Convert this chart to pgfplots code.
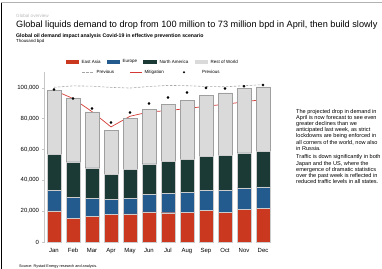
\documentclass[border=0pt]{standalone}
\usepackage{fontspec}
\setmainfont{Liberation Sans}
\usepackage{pgfplots}
\pgfplotsset{compat=1.18}
\usepackage{pgfplotstable}

\definecolor{ea}{HTML}{C9381F}
\definecolor{eu}{HTML}{245B8E}
\definecolor{na}{HTML}{1C3A35}
\definecolor{rw}{HTML}{DADADA}
\definecolor{mit}{HTML}{D43A35}

\pgfplotstableread{
x EA EU NA RW
0 20100 13600 23300 41400
1 15300 13800 22900 41400
2 16800 11700 19600 36200
3 18100 9700 16000 28700
4 18300 10200 18500 33000
5 19600 11300 19800 35200
6 19000 12500 20900 36700
7 19200 13200 21300 38100
8 20700 13000 22000 39400
9 19200 14500 22600 40300
10 21200 13900 22700 41700
11 21800 14000 23100 41600
}\bars

\pgfplotstableread{
x mit prevdot prevline
0 98400 98800 100300
1 93000 93000 101200
2 84500 86500 101000
3 74600 77500 100200
4 81500 84000 99800
5 84300 89800 100800
6 85200 93700 101500
7 86500 96900 101300
8 88000 99900 100800
9 89300 99500 100600
10 90800 101000 101300
11 92400 101800 102000
}\lines

\begin{document}
\begin{tikzpicture}[x=1bp,y=1bp]
\path[use as bounding box] (0,0) rectangle (382,269);
\draw[black, line width=1.2bp] (1.5,0) -- (1.5,267);
\draw[gray!60, line width=0.8bp] (1.5,267) -- (382,267);

\node[anchor=base west, inner sep=0, font=\fontsize{4.6}{5.5}\selectfont, text=gray!55] at (16,252) {Global overview};
\node[anchor=base west, inner sep=0, font=\fontsize{9.2}{10}\selectfont] at (16,242) {Global liquids demand to drop from 100 million to 73 million bpd in April, then build slowly};
\node[anchor=base west, inner sep=0, font=\fontsize{5.2}{6}\selectfont\bfseries] at (16,232) {Global oil demand impact analysis Covid-19 in effective prevention scenario};
\node[anchor=base west, inner sep=0, font=\fontsize{4.4}{5.5}\selectfont] at (16,226.8) {Thousand bpd};

% legend
\begin{scope}[font=\fontsize{4.5}{5.5}\selectfont]
\fill[ea] (66,205.3) rectangle (79,209.3);
\node[anchor=west, inner sep=0] at (81.5,207.3) {East Asia};
\fill[eu] (107,205.3) rectangle (120,209.3);
\node[anchor=west, inner sep=0] at (122.5,207.3) {Europe};
\fill[na] (143,205.3) rectangle (157,209.3);
\node[anchor=west, inner sep=0] at (159.5,207.3) {North America};
\fill[rw] (195,205.3) rectangle (208,209.3);
\node[anchor=west, inner sep=0] at (210.5,207.3) {Rest of World};
\draw[gray!70, dashed, dash pattern=on 2.5bp off 1.5bp, line width=0.6bp] (82,196.7) -- (94,196.7);
\node[anchor=west, inner sep=0] at (96.5,196.7) {Previous};
\draw[mit, line width=0.7bp] (130,196.7) -- (142,196.7);
\node[anchor=west, inner sep=0] at (144.5,196.7) {Mitigation};
\fill[black] (184,196.7) circle (1.1bp);
\node[anchor=west, inner sep=0] at (202,196.7) {Previous};
\end{scope}

\begin{axis}[
  at={(54bp,27bp)}, anchor=origin, scale only axis,
  width=228bp, height=169.7bp,
  xmin=-0.5, xmax=11.5, ymin=0, ymax=110000,
  ybar stacked, bar width=14bp,
  axis lines=left, axis line style={-},
  x axis line style={draw=none},
  y axis line style={gray!45, line width=0.4bp},
  xtick={0,...,11},
  xticklabels={Jan,Feb,Mar,Apr,May,Jun,Jul,Aug,Sep,Oct,Nov,Dec},
  xtick style={draw=none},
  ytick={0,20000,40000,60000,80000,100000},
  ytick style={gray!45, line width=0.4bp},
  tick align=outside, major tick length=2bp,
  scaled y ticks=false,
  yticklabel style={/pgf/number format/.cd, fixed, 1000 sep={,}, assume math mode=true},
  xticklabel style={/pgf/number format/assume math mode=true},
  tick label style={font=\fontsize{6}{7}\selectfont},
  xticklabel shift=1bp, yticklabel shift=0bp,
  clip=false,
]
\addplot[fill=ea, draw=gray!40, line width=0.3bp] table[x=x,y=EA]{\bars};
\addplot[fill=eu, draw=gray!40, line width=0.3bp] table[x=x,y=EU]{\bars};
\addplot[fill=na, draw=gray!40, line width=0.3bp] table[x=x,y=NA]{\bars};
\addplot[fill=rw, draw=gray!75, line width=0.5bp] table[x=x,y=RW]{\bars};
\addplot[sharp plot, stack plots=false, gray!70, dashed, dash pattern=on 2.5bp off 1.5bp, line width=0.6bp] table[x=x,y=prevline]{\lines};
\addplot[sharp plot, stack plots=false, mit, line width=0.7bp] table[x=x,y=mit]{\lines};
\addplot[only marks, stack plots=false, mark=*, mark size=1.1bp, black] table[x=x,y=prevdot]{\lines};
\end{axis}

\node[anchor=north west, inner sep=0, align=left, font=\fontsize{5.6}{6.2}\selectfont] at (296,160) {The projected drop in demand in\\April is now forecast to see even\\greater declines than we\\anticipated last week, as strict\\lockdowns are being enforced in\\all corners of the world, now also\\in Russia.\\[2.5bp]Traffic is down significantly in both\\Japan and the US, where the\\emergence of dramatic statistics\\over the past week is reflected in\\reduced traffic levels in all states.};

\node[anchor=base west, inner sep=0, font=\fontsize{3.8}{4.5}\selectfont] at (19,1.8) {Source: Rystad Energy research and analysis.};
\end{tikzpicture}
\end{document}
